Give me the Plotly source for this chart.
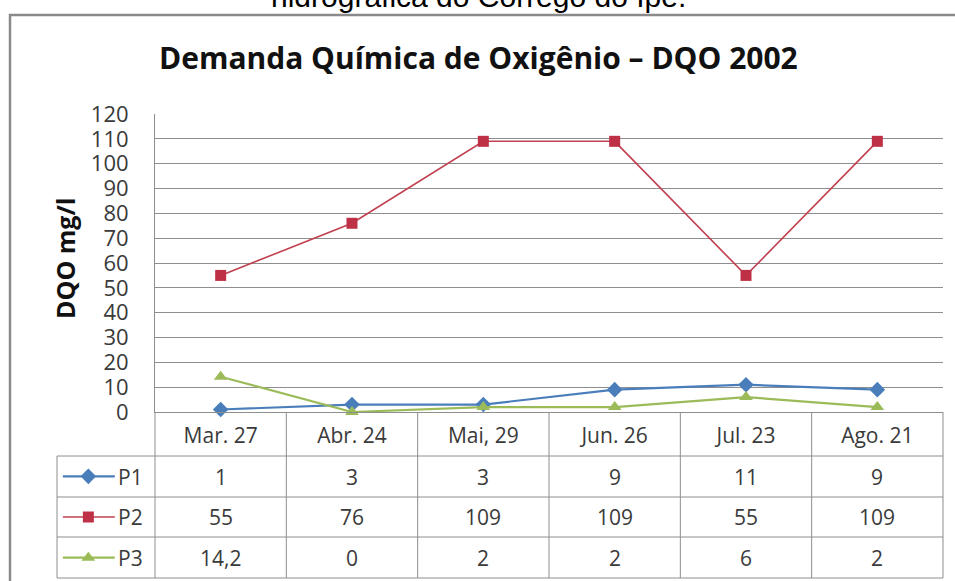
import plotly.graph_objects as go

W, H = 955, 581

# ---- data ----
categories = ["Mar. 27", "Abr. 24", "Mai, 29", "Jun. 26", "Jul. 23", "Ago. 21"]
p1 = [1, 3, 3, 9, 11, 9]
p2 = [55, 76, 109, 109, 55, 109]
p3 = [14.2, 0, 2, 2, 6, 2]
series_names = ["P1", "P2", "P3"]
y_ticks = list(range(0, 121, 10))

title_text = "Demanda Química de Oxigênio – DQO 2002"
y_title = "DQO mg/l"
caption = "hidrográfica do Córrego do Ipê."

# ---- styles ----
colors = ["#4a7ebb", "#be3046", "#9bbb59"]
line_colors = ["#4a7ebb", "#c0404f", "#9bbb59"]
symbols = ["diamond", "square", "triangle-up"]
marker_sizes = [12, 11, 12]
line_widths = [2.2, 1.6, 2.2]
GRID = "#8e8e8e"
TXT = "#3a3a3a"
FONT = "Open Sans"


def px(x):
    return x / W


def py(y):
    return 1 - y / H


PLOT_L, PLOT_R, PLOT_T, PLOT_B = 155, 943, 114, 412
ROW_EDGES = [412, 456, 497, 537, 578]
LEG_L = 57

fig = go.Figure()

series = [p1, p2, p3]
for name, vals, c, lc, s, ms, lw in zip(series_names, series, colors, line_colors, symbols,
                                        marker_sizes, line_widths):
    fig.add_trace(go.Scatter(
        x=categories, y=vals, name=name, mode="lines+markers",
        line=dict(color=lc, width=lw),
        marker=dict(color=c, symbol=s, size=ms, line=dict(width=0)),
        xaxis="x", yaxis="y", cliponaxis=False,
    ))

# legend keys inside the table (overlay axes)
for i, (c, lc, s, ms, lw) in enumerate(zip(colors, line_colors, symbols, marker_sizes, line_widths)):
    fig.add_trace(go.Scatter(
        x=[0.06, 0.59], y=[i + 0.5, i + 0.5], mode="lines",
        line=dict(color=lc, width=lw), xaxis="x2", yaxis="y2", hoverinfo="skip",
    ))
    fig.add_trace(go.Scatter(
        x=[0.32], y=[i + 0.5], mode="markers",
        marker=dict(color=c, symbol=s, size=ms),
        xaxis="x2", yaxis="y2", hoverinfo="skip",
    ))

shapes = []
# outer chart frame
shapes.append(dict(type="rect", xref="paper", yref="paper",
                   x0=px(10), x1=px(975), y0=py(15), y1=py(600),
                   line=dict(color="#8a8a8a", width=2.5), fillcolor="rgba(0,0,0,0)", layer="below"))
# table horizontal lines
for y in ROW_EDGES[1:]:
    shapes.append(dict(type="line", xref="paper", yref="paper",
                       x0=px(LEG_L), x1=px(PLOT_R), y0=py(y), y1=py(y),
                       line=dict(color=GRID, width=1)))
# table vertical lines (category boundaries)
ncat = len(categories)
for k in range(ncat + 1):
    xx = PLOT_L + k * (PLOT_R - PLOT_L) / ncat
    shapes.append(dict(type="line", xref="paper", yref="paper",
                       x0=px(xx), x1=px(xx), y0=py(ROW_EDGES[0]), y1=py(ROW_EDGES[-1]),
                       line=dict(color=GRID, width=1)))
shapes.append(dict(type="line", xref="paper", yref="paper",
                   x0=px(LEG_L), x1=px(LEG_L), y0=py(ROW_EDGES[1]), y1=py(ROW_EDGES[-1]),
                   line=dict(color=GRID, width=1)))

annotations = []
annotations.append(dict(text=caption, xref="paper", yref="paper", x=px(478), y=py(14.5),
                        xanchor="center", yanchor="bottom", showarrow=False, borderpad=0,
                        font=dict(family="Liberation Sans", size=30, color="#000000")))
annotations.append(dict(text="<b>" + title_text + "</b>", xref="paper", yref="paper",
                        x=px(478), y=py(57.5), xanchor="center", yanchor="middle", showarrow=False,
                        font=dict(family=FONT, size=30, color="#111111")))
annotations.append(dict(text="<b>" + y_title + "</b>", xref="paper", yref="paper",
                        x=px(65), y=py(259), xanchor="center", yanchor="middle", showarrow=False,
                        textangle=-90, font=dict(family=FONT, size=25, color="#111111")))

# table values
for r, (name, vals) in enumerate(zip(series_names, series)):
    yc = (ROW_EDGES[r + 1] + ROW_EDGES[r + 2]) / 2
    annotations.append(dict(text=name, xref="paper", yref="paper", x=px(116), y=py(yc),
                            xanchor="left", yanchor="middle", showarrow=False,
                            font=dict(family=FONT, size=21, color=TXT)))
    for i, v in enumerate(vals):
        annotations.append(dict(text=f"{v:g}".replace(".", ","), xref="x", yref="paper",
                                x=i, y=py(yc), xanchor="center", yanchor="middle", showarrow=False,
                                font=dict(family=FONT, size=21, color=TXT)))

fig.update_layout(
    width=W, height=H, margin=dict(l=0, r=0, t=0, b=0, pad=0, autoexpand=False),
    paper_bgcolor="white", plot_bgcolor="white", showlegend=False,
    font=dict(family=FONT, color=TXT),
    xaxis=dict(domain=[px(PLOT_L), px(PLOT_R)], type="category", range=[-0.5, ncat - 0.5],
               showgrid=False, zeroline=False, showline=True, linecolor=GRID, linewidth=1,
               ticks="", tickfont=dict(family=FONT, size=21, color=TXT), ticklabelstandoff=5,
               fixedrange=True, automargin=False),
    yaxis=dict(domain=[py(PLOT_B), py(PLOT_T)], range=[0, 120], tickvals=y_ticks,
               showgrid=True, gridcolor=GRID, gridwidth=1, zeroline=False,
               showline=True, linecolor=GRID, linewidth=1, ticks="",
               tickfont=dict(family=FONT, size=22, color=TXT), ticklabelstandoff=21,
               fixedrange=True, automargin=False),
    xaxis2=dict(domain=[px(LEG_L), px(PLOT_L)], range=[0, 1], visible=False, anchor="y2",
                fixedrange=True),
    yaxis2=dict(domain=[py(ROW_EDGES[-1]), py(ROW_EDGES[1])], range=[3, 0], visible=False,
                anchor="x2", fixedrange=True),
    shapes=shapes, annotations=annotations,
)

fig.write_html("out.html", config={"displayModeBar": False},
               post_script="document.body.style.margin='0';document.body.style.overflow='hidden';")
